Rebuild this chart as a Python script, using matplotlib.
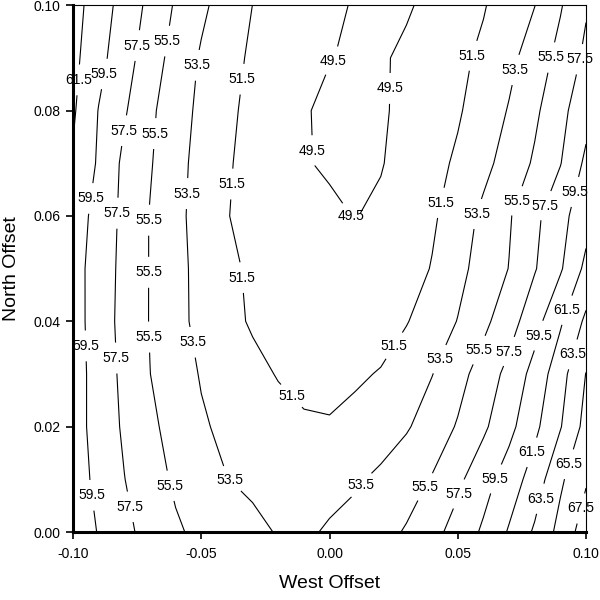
import numpy as np
import matplotlib
matplotlib.use("Agg")
import matplotlib.pyplot as plt

plt.rcParams["font.family"] = ["Liberation Sans", "DejaVu Sans"]
plt.rcParams["axes.unicode_minus"] = False

# grid of the field (west offset across, north offset up)
west = [-0.10, -0.09, -0.08, -0.07, -0.06, -0.05, -0.04, -0.03, -0.02, -0.01, 0.00,
        0.01, 0.02, 0.03, 0.04, 0.05, 0.06, 0.07, 0.08, 0.09, 0.10]
north = [0.00, 0.01, 0.02, 0.03, 0.04, 0.05, 0.06, 0.07, 0.08, 0.09, 0.10]

# values, one row per north offset
row_000 = [60.80, 59.39, 57.99, 56.81, 55.75, 55.05, 54.47, 53.88, 53.40, 53.20, 53.71,
           54.33, 54.95, 55.65, 56.88, 58.25, 59.80, 61.69, 63.78, 66.14, 68.52]
row_001 = [60.46, 59.00, 57.54, 56.30, 55.21, 54.37, 53.53, 53.20, 52.90, 52.80, 52.90,
           53.20, 53.95, 54.76, 55.62, 57.09, 58.73, 60.44, 62.39, 65.16, 67.30]
row_002 = [60.34, 58.75, 57.22, 55.91, 54.77, 53.72, 53.10, 52.60, 52.10, 51.65, 51.60,
           51.90, 52.40, 53.30, 54.45, 55.66, 57.16, 58.94, 61.04, 63.38, 66.14]
row_003 = [60.42, 58.68, 57.02, 55.52, 54.40, 53.37, 52.67, 51.98, 51.40, 51.20, 51.15,
           51.30, 51.59, 52.52, 53.45, 54.83, 56.35, 58.09, 60.18, 62.73, 65.55]
row_004 = [60.35, 58.54, 56.87, 55.42, 54.08, 52.97, 52.04, 51.30, 50.95, 50.75, 50.65,
           50.70, 50.90, 51.40, 52.45, 53.56, 55.03, 56.66, 58.73, 61.24, 63.90]
row_005 = [60.30, 58.59, 56.95, 55.42, 54.08, 52.92, 51.89, 51.20, 50.70, 50.30, 50.10,
           50.00, 50.20, 50.60, 51.61, 52.95, 54.26, 55.55, 57.36, 59.27, 61.98]
row_006 = [60.60, 58.77, 57.02, 55.42, 54.02, 52.75, 51.56, 51.00, 50.50, 50.10, 49.80,
           49.45, 49.80, 50.50, 51.20, 52.53, 53.91, 55.32, 57.03, 58.86, 60.73]
row_007 = [61.30, 59.25, 57.07, 55.66, 54.15, 52.84, 51.68, 50.94, 50.27, 49.61, 49.30,
           49.20, 49.40, 50.15, 50.92, 51.78, 52.97, 54.29, 55.76, 57.42, 59.90]
row_008 = [61.75, 59.43, 57.71, 55.87, 54.38, 53.06, 51.88, 51.02, 50.32, 49.62, 49.20,
           49.00, 49.30, 49.90, 50.60, 51.30, 52.38, 53.63, 55.13, 56.92, 58.80]
row_009 = [62.02, 60.10, 58.30, 56.48, 54.76, 53.29, 52.10, 51.23, 50.67, 50.11, 49.55,
           49.30, 49.35, 49.75, 50.40, 51.06, 51.88, 53.01, 54.43, 56.11, 57.91]
row_010 = [62.26, 60.49, 58.75, 57.02, 55.29, 53.88, 52.65, 51.49, 50.96, 50.43, 49.90,
           49.35, 49.20, 49.35, 49.85, 50.61, 51.36, 52.49, 53.47, 55.33, 57.30]

levels = [49.5, 51.5, 53.5, 55.5, 57.5, 59.5, 61.5, 63.5, 65.5, 67.5]
x_ticks = [-0.10, -0.05, 0.00, 0.05, 0.10]
y_ticks = [0.00, 0.02, 0.04, 0.06, 0.08, 0.10]

# where the contour labels sit
label_spots = [
    (-0.0973, 0.0858), (-0.0895, 0.0871), (-0.0758, 0.0924), (-0.0661, 0.0934),
    (-0.0517, 0.0886), (-0.0349, 0.0860), (-0.0817, 0.0763), (-0.0700, 0.0757),
    (-0.0942, 0.0634), (-0.0583, 0.0643), (-0.0364, 0.0660), (-0.0817, 0.0605),
    (-0.0708, 0.0592), (-0.0708, 0.0493), (-0.0368, 0.0482), (-0.0973, 0.0353),
    (-0.0844, 0.0330), (-0.0708, 0.0370), (-0.0536, 0.0360), (-0.0154, 0.0256),
    (-0.0922, 0.0070), (-0.0786, 0.0047), (-0.0626, 0.0087), (-0.0404, 0.0091),
    (0.0025, 0.0890), (0.0236, 0.0842), (0.0002, 0.0725), (0.0080, 0.0598),
    (0.0579, 0.0901), (0.0727, 0.0877), (0.0871, 0.0900), (0.0969, 0.0898),
    (0.0442, 0.0624), (0.0587, 0.0602), (0.0723, 0.0630), (0.0840, 0.0620),
    (0.0945, 0.0647), (0.0248, 0.0355), (0.0439, 0.0326), (0.0575, 0.0347),
    (0.0704, 0.0342), (0.0821, 0.0372), (0.0891, 0.0427), (0.0957, 0.0336),
    (0.0150, 0.0080), (0.0384, 0.0083), (0.0517, 0.0070), (0.0657, 0.0099),
    (0.0797, 0.0150), (0.0840, 0.0061), (0.0945, 0.0127), (0.0969, 0.0046),
]

z = np.array([row_000, row_001, row_002, row_003, row_004, row_005,
              row_006, row_007, row_008, row_009, row_010])

fig = plt.figure(figsize=(6, 6), dpi=100)
ax = fig.add_axes([0.1217, 0.1133, 0.855, 0.878])

cs = ax.contour(west, north, z, levels=levels, colors="black", linewidths=0.8)
texts = ax.clabel(cs, fmt="%.1f", fontsize=10, inline=True, manual=label_spots,
                  inline_spacing=2)
for t in texts:
    t.set_rotation(0)
    t.set_clip_on(False)

ax.set_xlim(-0.10, 0.10)
ax.set_ylim(0.0, 0.10)
ax.set_xticks(x_ticks)
ax.set_yticks(y_ticks)
ax.xaxis.set_major_formatter(matplotlib.ticker.FormatStrFormatter("%.2f"))
ax.yaxis.set_major_formatter(matplotlib.ticker.FormatStrFormatter("%.2f"))
ax.tick_params(direction="out", length=5, width=1.2, labelsize=10)
ax.tick_params(axis="x", pad=6)
ax.tick_params(axis="y", pad=4)

ax.spines["left"].set_linewidth(2.2)
ax.spines["bottom"].set_linewidth(2.2)
ax.spines["top"].set_linewidth(0.8)
ax.spines["right"].set_linewidth(0.8)

ax.set_xlabel("West Offset", fontsize=14, labelpad=10)
ax.set_ylabel("North Offset", fontsize=14, labelpad=10)

fig.savefig("out.png", dpi=100)
